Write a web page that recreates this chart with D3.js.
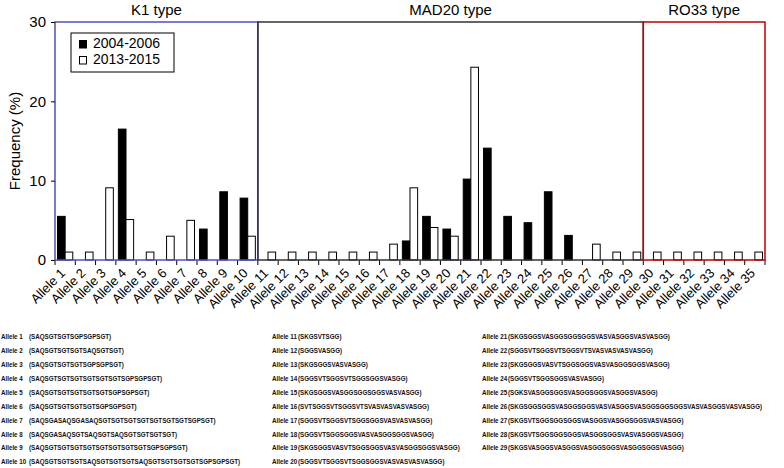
<!DOCTYPE html>
<html>
<head>
<meta charset="utf-8">
<script src="https://cdn.jsdelivr.net/npm/d3@7"></script>
<style>
  html, body { margin: 0; padding: 0; background: #fff; }
  svg { display: block; }
</style>
</head>
<body>
<svg id="chart" width="784" height="468"></svg>
<script>
// ---------- DATA ----------
const alleles = d3.range(1, 36).map(i => "Allele " + i);
const series = ["2004-2006", "2013-2015"];
const freq2004 = [5.5, 0, 0, 16.5, 0, 0, 0, 3.9, 8.6, 7.8,
                  0, 0, 0, 0, 0, 0, 0, 2.4, 5.5, 3.9, 10.2, 14.1, 5.5, 4.7, 8.6, 3.1, 0, 0, 0,
                  0, 0, 0, 0, 0, 0];
const freq2013 = [1, 1, 9.1, 5.1, 1, 3, 5, 0, 0, 3,
                  1, 1, 1, 1, 1, 1, 2, 9.1, 4.1, 3, 24.3, 0, 0, 0, 0, 0, 2, 1, 1,
                  1, 1, 1, 1, 1, 1];
const yTicks = [0, 10, 20, 30];
const groupNames = ["K1 type", "MAD20 type", "RO33 type"];
const groupFirst = [1, 11, 30];
const groupLast = [10, 29, 35];
const sequences = [
  "(SAQSGTSGTSGPSGPSGT)",
  "(SAQSGTSGTSGTSAQSGTSGT)",
  "(SAQSGTSGTSGTSGPSGPSGT)",
  "(SAQSGTSGTSGTSGTSGTSGTSGPSGPSGT)",
  "(SAQSGTSGTSGTSGTSGTSGPSGPSGT)",
  "(SAQSGTSGTSGTSGTSGPSGPSGT)",
  "(SAQSGASAQSGASAQSGTSGTSGTSGTSGTSGTSGTSGPSGT)",
  "(SAQSGASAQSGTSAQSGTSAQSGTSGTSGTSGT)",
  "(SAQSGTSGTSGTSGTSGTSGTSGTSGTSGPSGPSGT)",
  "(SAQSGTSGTSGTSAQSGTSGTSGTSAQSGTSGTSGTSGTSGPSGPSGT)",
  "(SKGSVTSGG)",
  "(SGGSVASGG)",
  "(SKGSGGSVASVASGG)",
  "(SGGSVTSGGSVTSGGSGGSVASGG)",
  "(SKGSGGSVASGGSGGSGGSVASVASGG)",
  "(SVTSGGSVTSGGSVTSVASVASVASVASGG)",
  "(SGGSVTSGGSVTSGGSGGSVASVASVASGG)",
  "(SGGSVTSGGSGGSVASVASGGSGGSVASGG)",
  "(SKGSGGSVASVTSGGSGGSVASVASGGSGGSVASGG)",
  "(SGGSVTSGGSVTSGGSGGSVASVASVASVASGG)",
  "(SKGSGGSVASGGSGGSGGSVASVASGGSVASVASGG)",
  "(SGGSVTSGGSVTSGGSVTSVASVASVASVASGG)",
  "(SKGSGGSVASVTSGGSGGSVASVASGGSGGSVASGG)",
  "(SGGSVTSGGSGGSVASVASGG)",
  "(SGKSVASGGSGGSVASGGSGGSVASGGSVASGG)",
  "(SKGSGGSGGSVASGGSGGSVASVASGGSVASGGSGGSGGSVASVASGGSVASVASGG)",
  "(SKGSVTSGGSGGSGGSVASGGSVASGGSGGSVASVASGG)",
  "(SKGSVTSGGSGGSGGSVASGGSGGSVASVASGGSVASGG)",
  "(SKGSVASGGSVASGGSVASGGSGGSVASGGSGGSVASGG)"
];

// ---------- LAYOUT ----------
const svg = d3.select("#chart");
const plot = { left: 55, right: 765, top: 22, bottom: 260 };
const font = "Liberation Sans, Arial, sans-serif";
const groupColors = ["#4f4fc4", "#333333", "#c00000"];

const x = d3.scaleBand().domain(alleles).range([plot.left, plot.right]).padding(0);
const xs = d3.scaleBand().domain(series).range([0, x.bandwidth()]).paddingInner(0).paddingOuter(0.33);
const y = d3.scaleLinear().domain([0, 30]).range([plot.bottom, plot.top]);

const rows = [];
alleles.forEach((a, i) => {
  rows.push({ a, s: series[0], v: freq2004[i] });
  rows.push({ a, s: series[1], v: freq2013[i] });
});

// bars
svg.append("g").selectAll("rect")
  .data(rows.filter(d => d.v > 0))
  .join("rect")
  .attr("x", d => x(d.a) + xs(d.s))
  .attr("y", d => y(d.v))
  .attr("width", xs.bandwidth())
  .attr("height", d => y(0) - y(d.v))
  .attr("fill", d => d.s === series[0] ? "#000" : "#fff")
  .attr("stroke", "#000")
  .attr("stroke-width", 1);

// x axis ticks (category boundaries)
const bounds = d3.range(0, alleles.length + 1).map(i => plot.left + i * x.step());
svg.append("g").selectAll("line")
  .data(bounds)
  .join("line")
  .attr("x1", d => d).attr("x2", d => d)
  .attr("y1", plot.bottom).attr("y2", plot.bottom + 5)
  .attr("stroke", "#000").attr("stroke-width", 1);

// group boxes
groupNames.forEach((name, gi) => {
  const x0 = x(alleles[groupFirst[gi] - 1]);
  const x1 = x(alleles[groupLast[gi] - 1]) + x.bandwidth();
  svg.append("rect")
    .attr("x", x0).attr("y", plot.top)
    .attr("width", x1 - x0).attr("height", plot.bottom - plot.top)
    .attr("fill", "none")
    .attr("stroke", groupColors[gi])
    .attr("stroke-width", 1.5);
  svg.append("text")
    .attr("x", (x0 + x1) / 2).attr("y", 15)
    .attr("text-anchor", "middle")
    .attr("font-family", font).attr("font-size", 15)
    .attr("fill", "#000")
    .text(name);
});

// y axis
const yAxis = svg.append("g").attr("transform", `translate(${plot.left},0)`)
  .call(d3.axisLeft(y).tickValues(yTicks).tickSize(4).tickPadding(5));
yAxis.select(".domain").remove();
yAxis.selectAll("line").attr("stroke", "#000");
yAxis.selectAll("text").attr("font-family", font).attr("font-size", 15).attr("fill", "#000");

svg.append("text")
  .attr("transform", `translate(16,${(plot.top + plot.bottom) / 2}) rotate(-90)`)
  .attr("text-anchor", "middle")
  .attr("dominant-baseline", "middle")
  .attr("font-family", font).attr("font-size", 15)
  .text("Frequency (%)");

// x labels
svg.append("g").selectAll("text")
  .data(alleles)
  .join("text")
  .attr("transform", d => `translate(${x(d) + x.bandwidth() / 2 + 1},${plot.bottom + 14}) rotate(-45)`)
  .attr("text-anchor", "end")
  .attr("font-family", font).attr("font-size", 13)
  .attr("fill", "#000")
  .text(d => d);

// legend
const lg = svg.append("g").attr("transform", "translate(71,33)");
lg.append("rect").attr("width", 103).attr("height", 39)
  .attr("fill", "#fff").attr("stroke", "#000").attr("stroke-width", 1);
series.forEach((s, i) => {
  lg.append("rect")
    .attr("x", 8.5).attr("y", 7.5 + i * 16)
    .attr("width", 7).attr("height", 7.5)
    .attr("fill", i === 0 ? "#000" : "#fff")
    .attr("stroke", "#000").attr("stroke-width", 1);
  lg.append("text")
    .attr("x", 22).attr("y", 15 + i * 16)
    .attr("font-family", font).attr("font-size", 14)
    .text(s);
});

// sequence list (condensed bold text)
const sx = 0.83;
const colX = [[1, 29], [272, 298], [482, 508]];
const seqG = svg.append("g")
  .attr("transform", `scale(${sx},1)`)
  .attr("font-family", font).attr("font-size", 7.5).attr("font-weight", "bold").attr("fill", "#111");
sequences.forEach((seq, i) => {
  const col = i < 10 ? 0 : (i < 20 ? 1 : 2);
  const row = i % 10;
  const yy = 338.8 + row * 13.96;
  seqG.append("text").attr("x", colX[col][0] / sx).attr("y", yy).text("Allele " + (i + 1));
  seqG.append("text").attr("x", colX[col][1] / sx).attr("y", yy).text(seq);
});
</script>
</body>
</html>
